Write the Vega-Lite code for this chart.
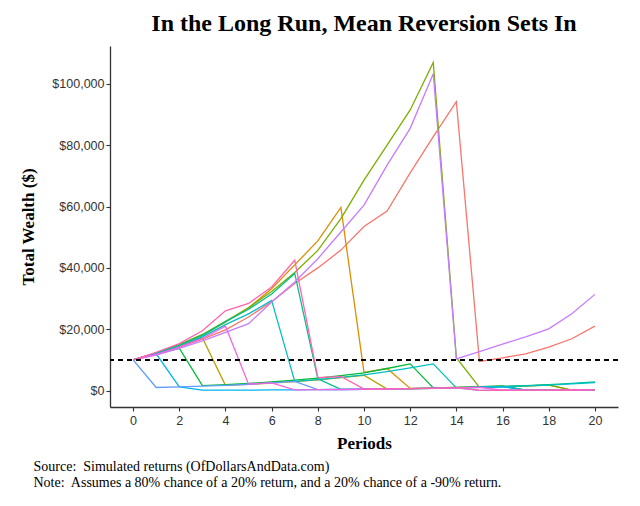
{
  "$schema": "https://vega.github.io/schema/vega-lite/v6.json",
  "width": 508,
  "height": 361,
  "autosize": {"type": "none"},
  "padding": {"left": 110, "top": 46, "right": 22, "bottom": 99},
  "background": "white",
  "config": {"view": {"stroke": null}},
  "title": {
    "text": "In the Long Run, Mean Reversion Sets In",
    "font": "Liberation Serif",
    "fontSize": 24,
    "fontWeight": "bold",
    "color": "#000000",
    "anchor": "middle",
    "frame": "group",
    "offset": 10
  },
  "data": {"values": [
    {"sim":"S01","period":0,"value":10000},{"sim":"S01","period":1,"value":11800},{"sim":"S01","period":2,"value":14200},{"sim":"S01","period":3,"value":16800},{"sim":"S01","period":4,"value":19800},{"sim":"S01","period":5,"value":24000},{"sim":"S01","period":6,"value":29000},{"sim":"S01","period":7,"value":34900},{"sim":"S01","period":8,"value":40000},{"sim":"S01","period":9,"value":45800},{"sim":"S01","period":10,"value":53500},{"sim":"S01","period":11,"value":58500},{"sim":"S01","period":12,"value":71000},{"sim":"S01","period":13,"value":82800},{"sim":"S01","period":14,"value":94200},{"sim":"S01","period":15,"value":9500},{"sim":"S01","period":16,"value":10700},{"sim":"S01","period":17,"value":12000},{"sim":"S01","period":18,"value":14150},{"sim":"S01","period":19,"value":16900},{"sim":"S01","period":20,"value":21000},
    {"sim":"S02","period":0,"value":10000},{"sim":"S02","period":1,"value":12200},{"sim":"S02","period":2,"value":14900},{"sim":"S02","period":3,"value":18000},{"sim":"S02","period":4,"value":22300},{"sim":"S02","period":5,"value":27000},{"sim":"S02","period":6,"value":33200},{"sim":"S02","period":7,"value":41000},{"sim":"S02","period":8,"value":48800},{"sim":"S02","period":9,"value":59700},{"sim":"S02","period":10,"value":5950},{"sim":"S02","period":11,"value":7200},{"sim":"S02","period":12,"value":720},{"sim":"S02","period":13,"value":860},{"sim":"S02","period":14,"value":1030},{"sim":"S02","period":15,"value":1240},{"sim":"S02","period":16,"value":1480},{"sim":"S02","period":17,"value":150},{"sim":"S02","period":18,"value":180},{"sim":"S02","period":19,"value":215},{"sim":"S02","period":20,"value":260},
    {"sim":"S03","period":0,"value":10000},{"sim":"S03","period":1,"value":12200},{"sim":"S03","period":2,"value":14700},{"sim":"S03","period":3,"value":17200},{"sim":"S03","period":4,"value":1700},{"sim":"S03","period":5,"value":2050},{"sim":"S03","period":6,"value":2450},{"sim":"S03","period":7,"value":2950},{"sim":"S03","period":8,"value":3500},{"sim":"S03","period":9,"value":4200},{"sim":"S03","period":10,"value":5000},{"sim":"S03","period":11,"value":500},{"sim":"S03","period":12,"value":600},{"sim":"S03","period":13,"value":720},{"sim":"S03","period":14,"value":860},{"sim":"S03","period":15,"value":1030},{"sim":"S03","period":16,"value":1240},{"sim":"S03","period":17,"value":1490},{"sim":"S03","period":18,"value":1790},{"sim":"S03","period":19,"value":180},{"sim":"S03","period":20,"value":215},
    {"sim":"S04","period":0,"value":10000},{"sim":"S04","period":1,"value":12300},{"sim":"S04","period":2,"value":15000},{"sim":"S04","period":3,"value":18300},{"sim":"S04","period":4,"value":22600},{"sim":"S04","period":5,"value":27000},{"sim":"S04","period":6,"value":32300},{"sim":"S04","period":7,"value":38500},{"sim":"S04","period":8,"value":45700},{"sim":"S04","period":9,"value":56100},{"sim":"S04","period":10,"value":68600},{"sim":"S04","period":11,"value":80000},{"sim":"S04","period":12,"value":91500},{"sim":"S04","period":13,"value":107000},{"sim":"S04","period":14,"value":10700},{"sim":"S04","period":15,"value":1070},{"sim":"S04","period":16,"value":1280},{"sim":"S04","period":17,"value":1540},{"sim":"S04","period":18,"value":1850},{"sim":"S04","period":19,"value":185},{"sim":"S04","period":20,"value":222},
    {"sim":"S05","period":0,"value":10000},{"sim":"S05","period":1,"value":12000},{"sim":"S05","period":2,"value":13800},{"sim":"S05","period":3,"value":1600},{"sim":"S05","period":4,"value":1950},{"sim":"S05","period":5,"value":2350},{"sim":"S05","period":6,"value":2800},{"sim":"S05","period":7,"value":3400},{"sim":"S05","period":8,"value":4050},{"sim":"S05","period":9,"value":4850},{"sim":"S05","period":10,"value":5800},{"sim":"S05","period":11,"value":7200},{"sim":"S05","period":12,"value":8700},{"sim":"S05","period":13,"value":870},{"sim":"S05","period":14,"value":1040},{"sim":"S05","period":15,"value":1250},{"sim":"S05","period":16,"value":1500},{"sim":"S05","period":17,"value":150},{"sim":"S05","period":18,"value":180},{"sim":"S05","period":19,"value":216},{"sim":"S05","period":20,"value":260},
    {"sim":"S06","period":0,"value":10000},{"sim":"S06","period":1,"value":12100},{"sim":"S06","period":2,"value":14800},{"sim":"S06","period":3,"value":18000},{"sim":"S06","period":4,"value":22500},{"sim":"S06","period":5,"value":26500},{"sim":"S06","period":6,"value":31500},{"sim":"S06","period":7,"value":38200},{"sim":"S06","period":8,"value":3820},{"sim":"S06","period":9,"value":382},{"sim":"S06","period":10,"value":458},{"sim":"S06","period":11,"value":550},{"sim":"S06","period":12,"value":660},{"sim":"S06","period":13,"value":792},{"sim":"S06","period":14,"value":950},{"sim":"S06","period":15,"value":1140},{"sim":"S06","period":16,"value":1370},{"sim":"S06","period":17,"value":1640},{"sim":"S06","period":18,"value":1970},{"sim":"S06","period":19,"value":2360},{"sim":"S06","period":20,"value":2830},
    {"sim":"S07","period":0,"value":10000},{"sim":"S07","period":1,"value":12000},{"sim":"S07","period":2,"value":14300},{"sim":"S07","period":3,"value":17500},{"sim":"S07","period":4,"value":21500},{"sim":"S07","period":5,"value":25000},{"sim":"S07","period":6,"value":29400},{"sim":"S07","period":7,"value":3000},{"sim":"S07","period":8,"value":3600},{"sim":"S07","period":9,"value":4300},{"sim":"S07","period":10,"value":5150},{"sim":"S07","period":11,"value":6200},{"sim":"S07","period":12,"value":7400},{"sim":"S07","period":13,"value":8720},{"sim":"S07","period":14,"value":870},{"sim":"S07","period":15,"value":1050},{"sim":"S07","period":16,"value":1260},{"sim":"S07","period":17,"value":1510},{"sim":"S07","period":18,"value":1800},{"sim":"S07","period":19,"value":2170},{"sim":"S07","period":20,"value":2600},
    {"sim":"S08","period":0,"value":10000},{"sim":"S08","period":1,"value":12000},{"sim":"S08","period":2,"value":1200},{"sim":"S08","period":3,"value":120},{"sim":"S08","period":4,"value":144},{"sim":"S08","period":5,"value":173},{"sim":"S08","period":6,"value":207},{"sim":"S08","period":7,"value":249},{"sim":"S08","period":8,"value":299},{"sim":"S08","period":9,"value":359},{"sim":"S08","period":10,"value":430},{"sim":"S08","period":11,"value":516},{"sim":"S08","period":12,"value":619},{"sim":"S08","period":13,"value":743},{"sim":"S08","period":14,"value":892},{"sim":"S08","period":15,"value":1070},{"sim":"S08","period":16,"value":1280},{"sim":"S08","period":17,"value":128},{"sim":"S08","period":18,"value":154},{"sim":"S08","period":19,"value":185},{"sim":"S08","period":20,"value":222},
    {"sim":"S09","period":0,"value":10000},{"sim":"S09","period":1,"value":1000},{"sim":"S09","period":2,"value":1200},{"sim":"S09","period":3,"value":1440},{"sim":"S09","period":4,"value":1730},{"sim":"S09","period":5,"value":2070},{"sim":"S09","period":6,"value":2490},{"sim":"S09","period":7,"value":2990},{"sim":"S09","period":8,"value":299},{"sim":"S09","period":9,"value":359},{"sim":"S09","period":10,"value":430},{"sim":"S09","period":11,"value":516},{"sim":"S09","period":12,"value":620},{"sim":"S09","period":13,"value":744},{"sim":"S09","period":14,"value":893},{"sim":"S09","period":15,"value":89},{"sim":"S09","period":16,"value":107},{"sim":"S09","period":17,"value":128},{"sim":"S09","period":18,"value":154},{"sim":"S09","period":19,"value":185},{"sim":"S09","period":20,"value":222},
    {"sim":"S10","period":0,"value":10000},{"sim":"S10","period":1,"value":11600},{"sim":"S10","period":2,"value":13800},{"sim":"S10","period":3,"value":16200},{"sim":"S10","period":4,"value":19000},{"sim":"S10","period":5,"value":21800},{"sim":"S10","period":6,"value":28900},{"sim":"S10","period":7,"value":35400},{"sim":"S10","period":8,"value":43000},{"sim":"S10","period":9,"value":51700},{"sim":"S10","period":10,"value":60450},{"sim":"S10","period":11,"value":73500},{"sim":"S10","period":12,"value":85500},{"sim":"S10","period":13,"value":103300},{"sim":"S10","period":14,"value":10330},{"sim":"S10","period":15,"value":12680},{"sim":"S10","period":16,"value":15130},{"sim":"S10","period":17,"value":17540},{"sim":"S10","period":18,"value":20150},{"sim":"S10","period":19,"value":25050},{"sim":"S10","period":20,"value":31370},
    {"sim":"S11","period":0,"value":10000},{"sim":"S11","period":1,"value":11800},{"sim":"S11","period":2,"value":14200},{"sim":"S11","period":3,"value":17000},{"sim":"S11","period":4,"value":21000},{"sim":"S11","period":5,"value":2100},{"sim":"S11","period":6,"value":2520},{"sim":"S11","period":7,"value":252},{"sim":"S11","period":8,"value":302},{"sim":"S11","period":9,"value":363},{"sim":"S11","period":10,"value":436},{"sim":"S11","period":11,"value":523},{"sim":"S11","period":12,"value":628},{"sim":"S11","period":13,"value":754},{"sim":"S11","period":14,"value":905},{"sim":"S11","period":15,"value":1086},{"sim":"S11","period":16,"value":109},{"sim":"S11","period":17,"value":130},{"sim":"S11","period":18,"value":156},{"sim":"S11","period":19,"value":188},{"sim":"S11","period":20,"value":225},
    {"sim":"S12","period":0,"value":10000},{"sim":"S12","period":1,"value":12500},{"sim":"S12","period":2,"value":15300},{"sim":"S12","period":3,"value":19500},{"sim":"S12","period":4,"value":26000},{"sim":"S12","period":5,"value":28400},{"sim":"S12","period":6,"value":33800},{"sim":"S12","period":7,"value":42500},{"sim":"S12","period":8,"value":4250},{"sim":"S12","period":9,"value":4600},{"sim":"S12","period":10,"value":460},{"sim":"S12","period":11,"value":552},{"sim":"S12","period":12,"value":662},{"sim":"S12","period":13,"value":795},{"sim":"S12","period":14,"value":954},{"sim":"S12","period":15,"value":95},{"sim":"S12","period":16,"value":114},{"sim":"S12","period":17,"value":137},{"sim":"S12","period":18,"value":165},{"sim":"S12","period":19,"value":198},{"sim":"S12","period":20,"value":237}
  ]},
  "layer": [
    {
      "mark": {"type": "line", "strokeWidth": 1.3, "clip": true},
      "encoding": {
        "x": {
          "field": "period", "type": "quantitative",
          "scale": {"domain": [-1, 21], "nice": false, "zero": false},
          "axis": {
            "orient": "bottom",
            "values": [0, 2, 4, 6, 8, 10, 12, 14, 16, 18, 20],
            "title": "Periods",
            "titleFont": "Liberation Serif", "titleFontSize": 17, "titleFontWeight": "bold", "titleColor": "#000000",
            "titleY": 41, "titleBaseline": "alphabetic",
            "labelFont": "Liberation Sans", "labelFontSize": 12.5, "labelColor": "#333333", "labelPadding": 3,
            "grid": false, "domainColor": "#333333", "domainWidth": 1.3, "tickColor": "#333333", "tickSize": 4, "tickWidth": 1.1
          }
        },
        "y": {
          "field": "value", "type": "quantitative",
          "scale": {"domain": [-5350, 112350], "nice": false, "zero": false},
          "axis": {
            "values": [0, 20000, 40000, 60000, 80000, 100000],
            "format": "$,.0f",
            "title": "Total Wealth ($)",
            "titleFont": "Liberation Serif", "titleFontSize": 17, "titleFontWeight": "bold", "titleColor": "#000000",
            "titleX": -82, "titleY": 180.5, "titleBaseline": "middle", "titleAngle": -90,
            "labelFont": "Liberation Sans", "labelFontSize": 12.5, "labelColor": "#333333", "labelPadding": 2,
            "grid": false, "domainColor": "#333333", "domainWidth": 1.3, "tickColor": "#333333", "tickSize": 4, "tickWidth": 1.1
          }
        },
        "color": {
          "field": "sim", "type": "nominal", "legend": null,
          "scale": {
            "domain": ["S01","S02","S03","S04","S05","S06","S07","S08","S09","S10","S11","S12"],
            "range": ["#F8766D","#DE8C00","#B79F00","#7CAE00","#00BA38","#00C08B","#00BFC4","#00B4F0","#619CFF","#C77CFF","#F564E3","#FF64B0"]
          }
        }
      }
    },
    {
      "mark": {"type": "rule", "strokeDash": [5, 4], "strokeWidth": 1.6, "color": "#000000"},
      "encoding": {"y": {"datum": 10000}}
    },
    {
      "mark": {"type": "point", "opacity": 0},
      "encoding": {
        "x": {
          "field": "period", "type": "quantitative",
          "scale": {"domain": [-1, 21], "nice": false, "zero": false},
          "axis": {
            "orient": "bottom",
            "title": ["Source:\u00a0 Simulated returns (OfDollarsAndData.com)", "Note:\u00a0 Assumes a 80% chance of a 20% return, and a 20% chance of a -90% return."],
            "titleFont": "Liberation Serif", "titleFontSize": 14, "titleFontWeight": "normal", "titleColor": "#000000",
            "titleAlign": "left", "titleAnchor": "start", "titleBaseline": "alphabetic",
            "titleX": -77, "titleY": 63, "titleLineHeight": 16,
            "labels": false, "ticks": false, "domain": false, "grid": false
          }
        },
        "y": {"field": "value", "type": "quantitative"}
      }
    }
  ],
  "resolve": {"scale": {"x": "independent"}, "axis": {"x": "independent"}}
}
